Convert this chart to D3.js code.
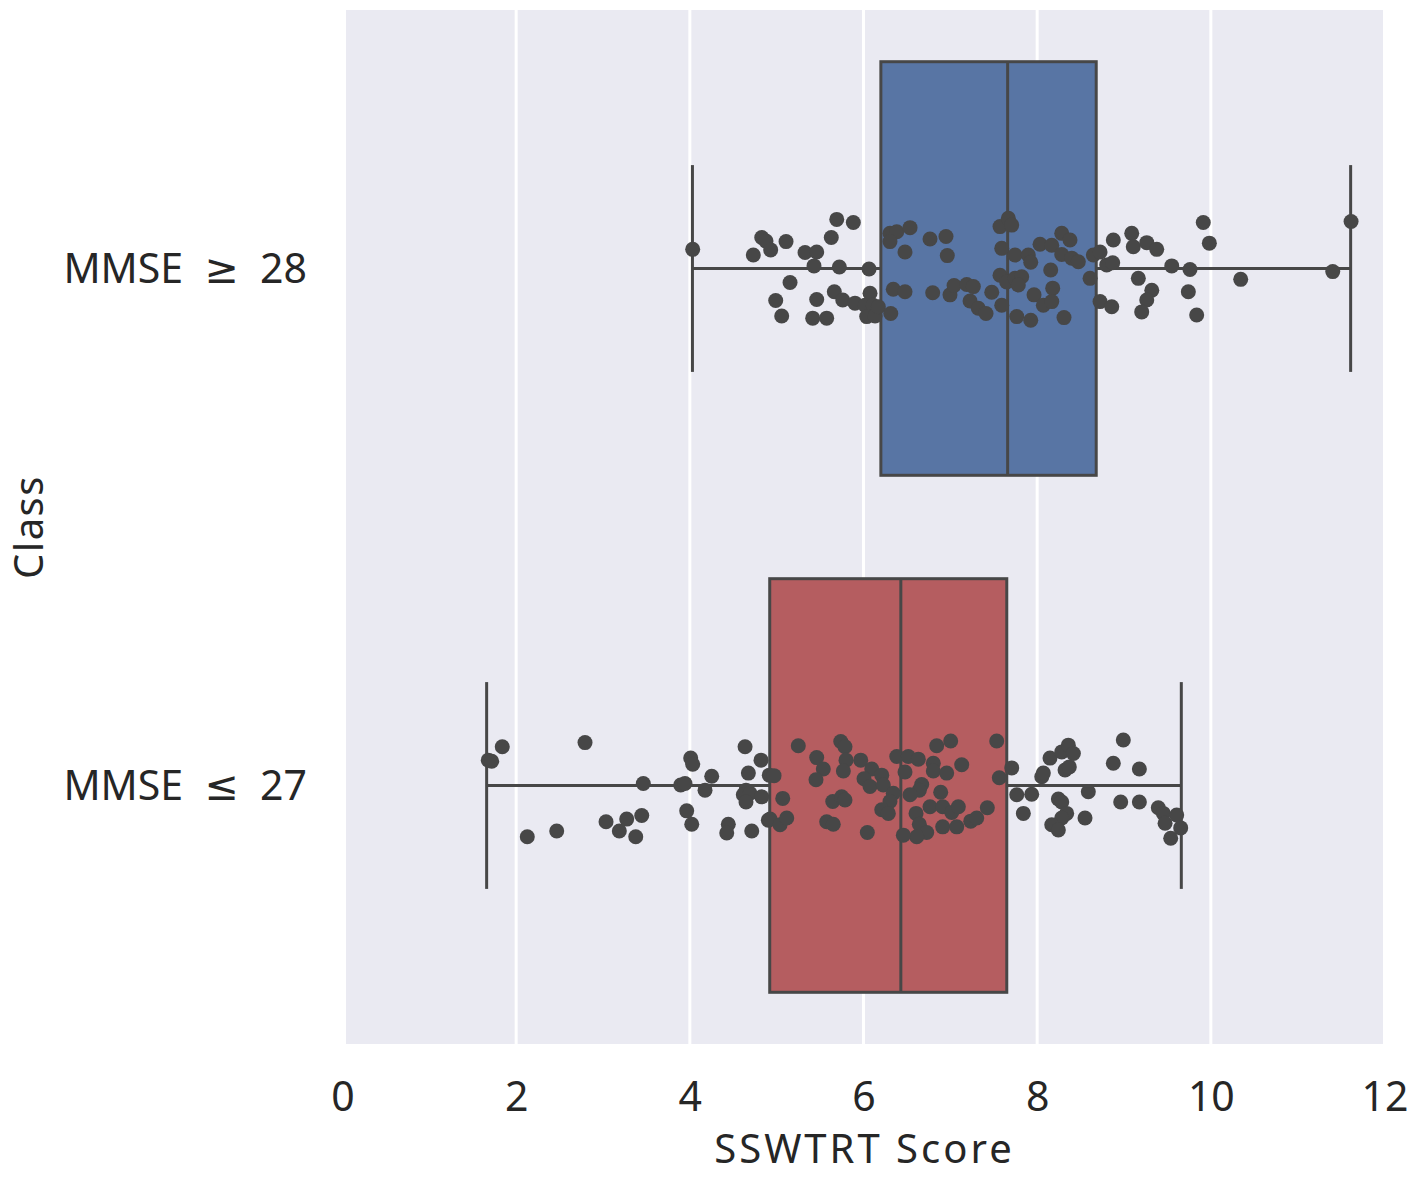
<!DOCTYPE html>
<html lang="en">
<head>
  <meta charset="UTF-8">
  <title>SSWTRT Score by Class</title>
  <script src="https://d3js.org/d3.v7.min.js"></script>
  <style>
    body, html {
      margin: 0;
      padding: 0;
      background: #fff;
    }
    svg text {
      font-family: "Noto Sans", "DejaVu Sans", sans-serif;
      fill: #262626;
    }
  </style>
</head>
<body>
  <svg width="1418" height="1181"></svg>
  <script>
    // categories and box statistics
    const classes = ['MMSE ≥ 28', 'MMSE ≤ 27'];
    const boxColors = ['#5875a4', '#b55d60'];
    const whiskerLow = [4.03, 1.66];
    const q1 = [6.20, 4.92];
    const median = [7.66, 6.43];
    const q3 = [8.68, 7.65];
    const whiskerHigh = [11.61, 9.66];
    const xTicks = [0, 2, 4, 6, 8, 10, 12];

    // strip points: [score, jitter as fraction of the band]
    const pointsHigh = [
      [4.033, -0.037], [4.828, -0.060], [4.877, -0.053], [4.731, -0.026], [4.931, -0.036],
      [5.108, -0.052], [5.692, -0.095], [5.883, -0.089], [5.629, -0.060], [5.327, -0.031],
      [5.461, -0.032], [5.430, -0.005], [5.722, -0.003], [6.064, 0.001], [5.154, 0.027],
      [4.989, 0.062], [5.058, 0.092], [5.461, 0.060], [5.415, 0.096], [5.576, 0.096],
      [5.664, 0.045], [5.761, 0.061], [5.902, 0.067], [6.075, 0.048], [6.018, 0.071],
      [6.110, 0.071], [6.037, 0.093], [6.133, 0.092], [6.171, 0.074], [6.314, 0.087],
      [6.305, -0.068], [6.383, -0.071], [6.305, -0.052], [6.536, -0.079], [6.478, -0.032],
      [6.766, -0.057], [6.950, -0.062], [6.965, -0.025], [6.343, 0.040], [6.478, 0.045],
      [6.797, 0.047], [6.996, 0.051], [7.043, 0.033], [7.189, 0.031], [7.265, 0.035],
      [7.227, 0.063], [7.322, 0.077], [7.411, 0.087], [7.477, 0.046], [7.572, 0.013],
      [7.592, 0.071], [7.572, -0.081], [7.668, -0.097], [7.707, -0.084], [7.592, -0.039],
      [7.745, -0.026], [7.649, 0.026], [7.745, 0.019], [7.822, 0.016], [7.783, 0.032],
      [7.765, 0.093], [7.926, 0.100], [7.898, -0.026], [7.926, -0.012], [8.033, -0.047],
      [8.168, -0.045], [8.283, -0.068], [8.378, -0.055], [8.283, -0.027], [8.398, -0.020],
      [8.474, -0.013], [8.156, 0.003], [8.179, 0.038], [7.964, 0.051], [8.071, 0.071],
      [8.168, 0.064], [8.309, 0.095], [8.609, 0.019], [8.647, -0.026], [8.724, -0.032],
      [8.724, 0.064], [8.801, -0.007], [8.877, -0.055], [8.870, -0.011], [8.859, 0.074],
      [9.089, -0.068], [9.107, -0.042], [9.262, -0.050], [9.377, -0.037], [9.165, 0.019],
      [9.550, -0.005], [9.760, 0.002], [9.741, 0.045], [9.320, 0.042], [9.262, 0.061],
      [9.204, 0.084], [9.837, 0.090], [9.913, -0.089], [9.983, -0.049], [10.344, 0.021],
      [11.404, 0.006], [11.615, -0.091]
    ];
    const pointsLow = [
      [1.679, -0.049], [1.718, -0.047], [1.840, -0.075], [2.793, -0.083], [2.128, 0.099],
      [2.467, 0.088], [3.035, 0.070], [3.188, 0.088], [3.273, 0.065], [3.446, 0.058],
      [3.377, 0.099], [3.464, -0.004], [3.895, -0.001], [3.944, -0.004], [4.010, -0.053],
      [4.033, -0.041], [3.964, 0.049], [4.022, 0.075], [4.175, 0.009], [4.252, -0.018],
      [4.636, -0.075], [4.820, -0.049], [4.674, -0.024], [4.647, 0.009], [4.616, 0.018],
      [4.693, 0.015], [4.647, 0.032], [4.828, 0.022], [4.443, 0.075], [4.425, 0.092],
      [4.713, 0.088], [4.904, 0.067], [4.915, -0.020], [4.970, -0.019], [5.070, 0.025],
      [4.924, 0.065], [5.039, 0.076], [5.116, 0.063], [5.249, -0.077], [5.461, -0.054],
      [5.537, -0.032], [5.453, -0.011], [5.738, -0.085], [5.787, -0.075], [5.799, -0.049],
      [5.768, -0.028], [5.968, -0.049], [6.095, -0.032], [6.210, -0.020], [6.006, -0.013],
      [6.075, 0.002], [6.228, -0.001], [6.343, 0.015], [6.305, 0.031], [6.210, 0.047],
      [6.286, 0.054], [5.646, 0.031], [5.749, 0.022], [5.787, 0.028], [5.576, 0.070],
      [5.652, 0.075], [6.044, 0.091], [6.383, -0.056], [6.516, -0.056], [6.631, -0.051],
      [6.478, -0.026], [6.843, -0.077], [7.004, -0.086], [6.804, -0.043], [6.804, -0.028],
      [6.958, -0.024], [7.131, -0.040], [6.670, -0.002], [6.643, 0.009], [6.536, 0.018],
      [6.889, 0.013], [6.766, 0.041], [6.912, 0.041], [7.016, 0.052], [7.092, 0.041],
      [6.605, 0.054], [6.643, 0.075], [6.728, 0.091], [6.613, 0.099], [6.459, 0.096],
      [6.912, 0.080], [7.074, 0.080], [7.235, 0.069], [7.304, 0.063], [7.426, 0.043],
      [7.534, -0.086], [7.564, -0.015], [7.707, -0.034], [7.765, 0.018], [7.937, 0.017],
      [7.841, 0.054], [8.053, -0.017], [8.071, -0.024], [8.148, -0.053], [8.283, -0.065],
      [8.359, -0.078], [8.417, -0.062], [8.321, -0.030], [8.370, -0.036], [8.244, 0.026],
      [8.283, 0.032], [8.589, 0.012], [8.340, 0.054], [8.283, 0.063], [8.168, 0.076],
      [8.244, 0.086], [8.551, 0.063], [8.992, -0.088], [8.877, -0.043], [9.177, -0.032],
      [8.962, 0.032], [9.177, 0.032], [9.395, 0.043], [9.453, 0.054], [9.607, 0.057],
      [9.473, 0.073], [9.653, 0.082], [9.538, 0.102]
    ];
    const pointSets = [pointsHigh, pointsLow];

    const svg = d3.select('svg');
    const plot = { left: 346, right: 1383, top: 10, bottom: 1044 };

    const x = d3.scaleLinear().domain([0, 12]).range([342.5, 1384.5]);
    const y = d3.scaleBand().domain(classes).range([plot.top, plot.bottom]).padding(0);
    const bw = y.bandwidth();
    const lineColor = '#474747';

    // background
    svg.append('rect')
      .attr('x', plot.left).attr('y', plot.top)
      .attr('width', plot.right - plot.left)
      .attr('height', plot.bottom - plot.top)
      .attr('fill', '#eaeaf2');

    // grid
    svg.append('g')
      .selectAll('line')
      .data(xTicks.filter((t) => x(t) > plot.left + 2 && x(t) < plot.right - 2))
      .join('line')
      .attr('x1', (d) => x(d)).attr('x2', (d) => x(d))
      .attr('y1', plot.top).attr('y2', plot.bottom)
      .attr('stroke', '#fff')
      .attr('stroke-width', 3);

    // boxes
    const boxes = svg.append('g')
      .selectAll('g')
      .data(classes)
      .join('g');

    boxes.each(function (c, i) {
      const g = d3.select(this);
      const cy = y(c) + bw / 2;
      const capHalf = bw * 0.2;

      // whisker line
      g.append('line')
        .attr('x1', x(whiskerLow[i])).attr('x2', x(q1[i]))
        .attr('y1', cy).attr('y2', cy)
        .attr('stroke', lineColor).attr('stroke-width', 3);
      g.append('line')
        .attr('x1', x(q3[i])).attr('x2', x(whiskerHigh[i]))
        .attr('y1', cy).attr('y2', cy)
        .attr('stroke', lineColor).attr('stroke-width', 3);
      // caps
      [whiskerLow[i], whiskerHigh[i]].forEach((v) => {
        g.append('line')
          .attr('x1', x(v)).attr('x2', x(v))
          .attr('y1', cy - capHalf).attr('y2', cy + capHalf)
          .attr('stroke', lineColor).attr('stroke-width', 3);
      });
      // box
      g.append('rect')
        .attr('x', x(q1[i]))
        .attr('y', cy - bw * 0.4)
        .attr('width', x(q3[i]) - x(q1[i]))
        .attr('height', bw * 0.8)
        .attr('fill', boxColors[i])
        .attr('stroke', lineColor)
        .attr('stroke-width', 3);
      // median
      g.append('line')
        .attr('x1', x(median[i])).attr('x2', x(median[i]))
        .attr('y1', cy - bw * 0.4).attr('y2', cy + bw * 0.4)
        .attr('stroke', lineColor).attr('stroke-width', 3);

      // strip points
      g.append('g')
        .selectAll('circle')
        .data(pointSets[i])
        .join('circle')
        .attr('cx', (d) => x(d[0]))
        .attr('cy', (d) => cy + d[1] * bw)
        .attr('r', 7.5)
        .attr('fill', '#474747');
    });

    // x axis
    const xAxis = svg.append('g')
      .attr('transform', `translate(0,${plot.bottom})`)
      .call(d3.axisBottom(x).tickValues(xTicks).tickSize(0).tickPadding(38).tickFormat(d3.format('d')));
    xAxis.select('.domain').remove();
    xAxis.selectAll('text')
      .attr('font-size', 41)
      .style('font-family', '"Noto Sans", "DejaVu Sans", sans-serif')
      .attr('fill', '#262626');

    // y axis, wide gaps around the sign as in the original
    const yAxis = svg.append('g')
      .attr('transform', `translate(${plot.left},0)`)
      .call(d3.axisLeft(y).tickSize(0).tickPadding(39)
        .tickFormat((d) => d.replace(/ /g, '\u00a0\u00a0')));
    yAxis.select('.domain').remove();
    yAxis.selectAll('text')
      .attr('font-size', 41)
      .attr('dy', '0.35em')
      .style('font-family', '"Noto Sans", "DejaVu Sans", sans-serif')
      .attr('fill', '#262626');

    // axis titles
    svg.append('text')
      .attr('x', (plot.left + plot.right) / 2)
      .attr('y', 1163)
      .attr('text-anchor', 'middle')
      .attr('font-size', 40)
      .attr('letter-spacing', 3)
      .text('SSWTRT Score');

    svg.append('text')
      .attr('transform', 'translate(43,527) rotate(-90)')
      .attr('text-anchor', 'middle')
      .attr('font-size', 40)
      .attr('letter-spacing', 1.5)
      .text('Class');
  </script>
</body>
</html>
